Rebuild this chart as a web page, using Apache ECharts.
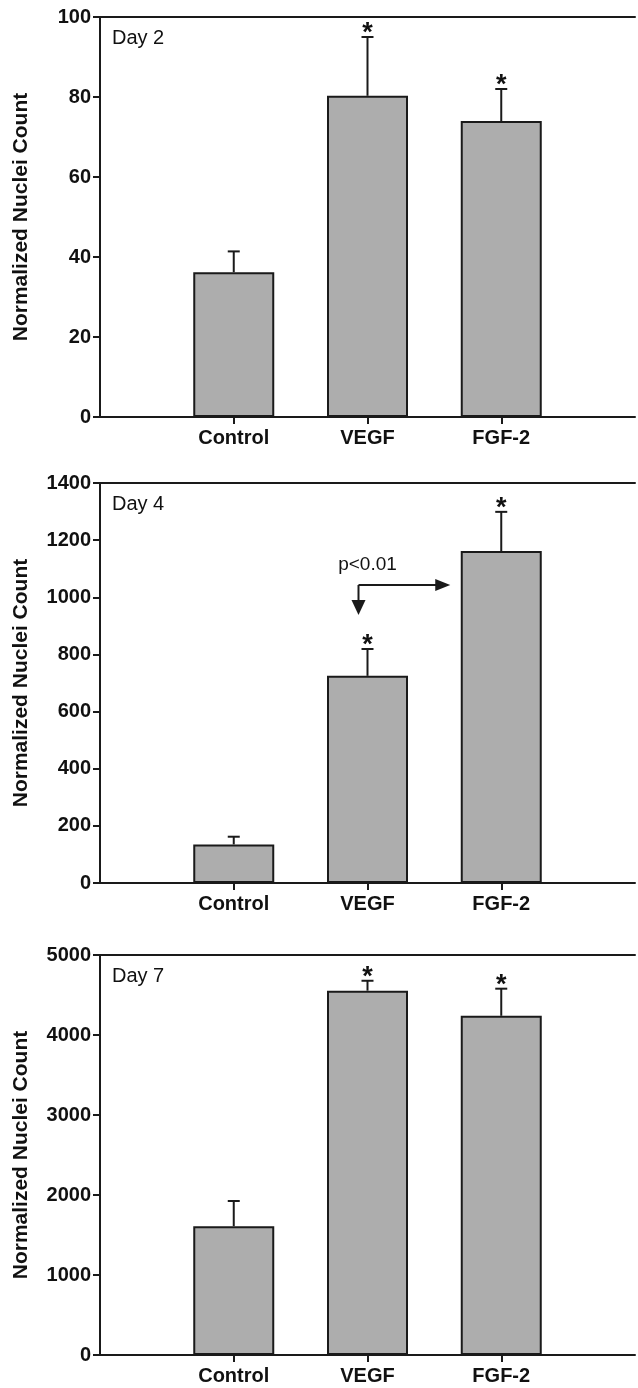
<!DOCTYPE html>
<html>
<head>
<meta charset="utf-8">
<script src="https://cdn.jsdelivr.net/npm/echarts@6/dist/echarts.min.js"></script>
<style>
  html, body { margin: 0; padding: 0; background: #fff; }
  #chart { width: 638px; height: 1388px; }
</style>
</head>
<body>
<div id="chart"></div>
<script>
// groups on the x axis (padded with an empty slot on each side)
const groups = ['Control', 'VEGF', 'FGF-2'];
const significant = [false, true, true];

// Day 2
const day2Mean = [36.2, 80.3, 74.0];
const day2Upper = [41.4, 95.0, 82.0];
// Day 4
const day4Mean = [135, 725, 1162];
const day4Upper = [162, 819, 1299];
// Day 7
const day7Mean = [1610, 4554, 4240];
const day7Upper = [1925, 4678, 4579];

const dayLabels = ['Day 2', 'Day 4', 'Day 7'];
const yMax = [100, 1400, 5000];
const yStep = [20, 200, 1000];

// p<0.01 bracket on Day 4: from VEGF (down) to FGF-2 (right)
const bracketLevel = 1043;
const bracketTip = 938;
const bracketText = 'p<0.01';

const panels = [
  { mean: day2Mean, upper: day2Upper },
  { mean: day4Mean, upper: day4Upper },
  { mean: day7Mean, upper: day7Upper }
];

const cats = [''].concat(groups, ['']);
const font = "'Liberation Sans', Arial, Helvetica, sans-serif";
const ink = '#1a1a1a';
const gridTops = [17, 483, 955];
const gridH = 400;

const chart = echarts.init(document.getElementById('chart'));

const grid = [], xAxis = [], yAxis = [], series = [], graphic = [];

panels.forEach((p, i) => {
  grid.push({ left: 100, right: 0, top: gridTops[i], height: gridH, show: false });
  xAxis.push({
    type: 'category', gridIndex: i, data: cats, boundaryGap: false,
    axisLine: { lineStyle: { color: ink, width: 2 } },
    axisTick: { interval: (idx) => idx >= 1 && idx <= 3, length: 7, lineStyle: { color: ink, width: 2 } },
    axisLabel: { interval: 0, margin: 11, color: '#111', fontWeight: 'bold', fontSize: 20, fontFamily: font },
    splitLine: { show: false }
  });
  // top frame line
  xAxis.push({
    type: 'category', gridIndex: i, data: cats, position: 'top', boundaryGap: false,
    axisLine: { lineStyle: { color: ink, width: 2 } },
    axisTick: { show: false }, axisLabel: { show: false }, splitLine: { show: false }
  });
  yAxis.push({
    type: 'value', gridIndex: i, min: 0, max: yMax[i], interval: yStep[i],
    name: 'Normalized Nuclei Count', nameLocation: 'middle', nameGap: 68,
    nameTextStyle: { color: '#111', fontWeight: 'bold', fontSize: 21, fontFamily: font },
    axisLine: { show: true, lineStyle: { color: ink, width: 2 } },
    axisTick: { show: true, length: 7, lineStyle: { color: ink, width: 2 } },
    axisLabel: { margin: 9, color: '#111', fontWeight: 'bold', fontSize: 20, fontFamily: font,
      formatter: (v) => String(v) },
    splitLine: { show: false }
  });

  series.push({
    type: 'bar', xAxisIndex: i * 2, yAxisIndex: i, barWidth: 81,
    data: [null].concat(p.mean, [null]),
    itemStyle: { color: '#adadad', borderColor: ink, borderWidth: 2 },
    silent: true
  });

  series.push({
    type: 'custom', xAxisIndex: i * 2, yAxisIndex: i, silent: true, z: 5,
    data: groups.map((g, k) => [k + 1, p.mean[k], p.upper[k], significant[k] ? 1 : 0]),
    renderItem: (params, api) => {
      const base = api.coord([api.value(0), api.value(1)]);
      const top = api.coord([api.value(0), api.value(2)]);
      const children = [
        { type: 'line', shape: { x1: top[0], y1: base[1], x2: top[0], y2: top[1] }, style: { stroke: ink, lineWidth: 2 } },
        { type: 'line', shape: { x1: top[0] - 6, y1: top[1], x2: top[0] + 6, y2: top[1] }, style: { stroke: ink, lineWidth: 2 } }
      ];
      if (api.value(3)) {
        children.push({
          type: 'text', x: top[0], y: top[1] - 3,
          style: { text: '*', fill: '#111', font: 'bold 27px ' + font, align: 'center', verticalAlign: 'middle' }
        });
      }
      return { type: 'group', children: children };
    }
  });

  graphic.push({
    type: 'text', left: 112, top: gridTops[i] + 11,
    style: { text: dayLabels[i], fill: '#111', font: '20px ' + font }
  });
});

// p<0.01 bracket with arrows (Day 4 panel)
series.push({
  type: 'custom', xAxisIndex: 2, yAxisIndex: 1, silent: true, z: 6,
  data: [[2, bracketLevel, bracketTip, 3]],
  renderItem: (params, api) => {
    const start = api.coord([api.value(0), api.value(1)]);
    const tip = api.coord([api.value(0), api.value(2)]);
    const right = api.coord([api.value(3), api.value(1)]);
    const x0 = start[0] - 9;
    const xEnd = right[0] - 51;
    return {
      type: 'group',
      children: [
        { type: 'line', shape: { x1: x0, y1: start[1], x2: x0, y2: tip[1] - 12 }, style: { stroke: ink, lineWidth: 2 } },
        { type: 'polygon', shape: { points: [[x0 - 7, tip[1] - 15], [x0 + 7, tip[1] - 15], [x0, tip[1]]] }, style: { fill: ink } },
        { type: 'line', shape: { x1: x0, y1: start[1], x2: xEnd - 12, y2: start[1] }, style: { stroke: ink, lineWidth: 2 } },
        { type: 'polygon', shape: { points: [[xEnd - 15, start[1] - 6], [xEnd - 15, start[1] + 6], [xEnd, start[1]]] }, style: { fill: ink } },
        { type: 'text', x: start[0], y: start[1] - 20,
          style: { text: bracketText, fill: '#111', font: '19px ' + font, align: 'center', verticalAlign: 'middle' } }
      ]
    };
  }
});

chart.setOption({
  animation: false,
  backgroundColor: '#fff',
  grid: grid,
  xAxis: xAxis,
  yAxis: yAxis,
  series: series,
  graphic: graphic
});
</script>
</body>
</html>
